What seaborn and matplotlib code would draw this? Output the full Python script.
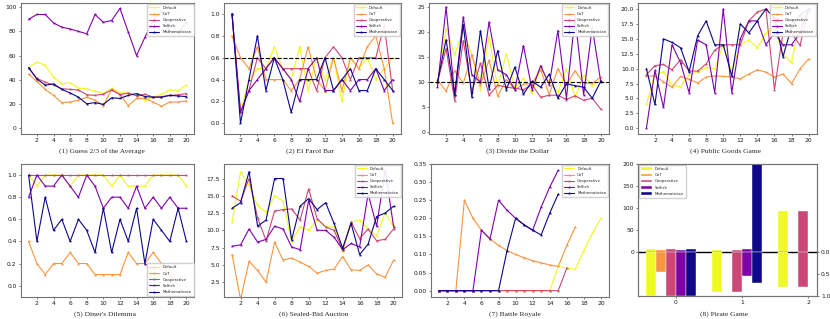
import matplotlib
matplotlib.use("Agg")
import matplotlib.pyplot as plt
import seaborn as sns

rounds = list(range(1, 21))
agents = ["Default", "CoT", "Cooperative", "Selfish", "Mathematician"]

# (1) Guess 2/3 of the Average
guess = {
    "Default": [50, 54.5, 52, 42, 36.5, 37.5, 33, 32.5, 30.5, 28.5, 33, 29, 29, 27, 23, 25.5, 28, 31.5, 31, 35.5],
    "CoT": [44.5, 38.5, 32, 27, 21, 21.5, 23, 25.5, 23, 18.5, 32, 28, 18.5, 24.5, 24.5, 21.5, 18, 21.5, 21.5, 22.5],
    "Cooperative": [50, 41, 38, 35.5, 32.5, 32, 31.5, 27.5, 27, 28, 31.5, 27.5, 29, 26.5, 28, 25.5, 26, 27, 27.5, 28.5],
    "Selfish": [90, 94, 94, 87, 83.5, 82, 80, 78, 94, 87.5, 89, 99, 79.5, 60, 75, 89, 97, 80, 79, 88],
    "Mathematician": [50, 40.5, 35.5, 36.5, 32, 29, 25.5, 20, 21, 19.5, 25, 24.5, 27, 28.5, 26, 25.5, 25.5, 27, 26.5, 26],
}

# (2) El Farol Bar
farol = {
    "Default": [1.0, 0.1, 0.4, 0.5, 0.5, 0.7, 0.5, 0.4, 0.7, 0.3, 0.6, 0.4, 0.6, 0.2, 0.6, 0.5, 0.6, 0.4, 0.5, 0.6],
    "CoT": [0.8, 0.6, 0.5, 0.7, 0.4, 0.4, 0.4, 0.3, 0.4, 0.7, 0.4, 0.3, 0.6, 0.3, 0.6, 0.5, 0.7, 0.8, 0.5, 0.0],
    "Cooperative": [1.0, 0.1, 0.3, 0.6, 0.5, 0.6, 0.5, 0.5, 0.5, 0.5, 0.3, 0.6, 0.7, 0.6, 0.4, 0.6, 0.6, 0.6, 0.9, 0.3],
    "Selfish": [1.0, 0.1, 0.3, 0.4, 0.5, 0.6, 0.5, 0.4, 0.2, 0.5, 0.6, 0.3, 0.3, 0.4, 0.3, 0.4, 0.4, 0.5, 0.3, 0.4],
    "Mathematician": [1.0, 0.0, 0.4, 0.8, 0.3, 0.6, 0.4, 0.1, 0.4, 0.4, 0.4, 0.6, 0.3, 0.4, 0.5, 0.3, 0.3, 0.5, 0.4, 0.3],
}

# (3) Divide the Dollar
dollar = {
    "Default": [10, 20.7, 15.5, 20.3, 15.5, 8.5, 19, 9, 15.7, 8.8, 10.8, 7.8, 12.7, 10, 8, 12.6, 7, 11.4, 9.3, 10.5],
    "CoT": [10.5, 8.2, 12.3, 9.8, 15.5, 9.5, 14.4, 7.2, 10.5, 8.5, 9.6, 9.8, 12.5, 7.5, 12.7, 9.5, 12.3, 9.8, 9.8, 11],
    "Cooperative": [10, 16.7, 6.3, 18.3, 8, 13.8, 7.4, 9.4, 9, 8.8, 8.5, 9.5, 7, 7.4, 7.4, 6.5, 7.3, 6.4, 6.8, 4.6],
    "Selfish": [9, 25, 7.5, 23, 11.5, 10, 22, 12.5, 11.5, 8.5, 17.3, 8.5, 13.3, 9.5, 20.3, 6.8, 23, 7.5, 21, 10],
    "Mathematician": [10, 18.5, 7.5, 21.5, 7, 20.3, 8.7, 16.3, 8.5, 13, 7.6, 10.2, 9, 11.6, 6.8, 9.7, 9.3, 9, 6.8, 10.2],
}

# (4) Public Goods Game
goods = {
    "Default": [4, 9, 9.5, 7.2, 7, 9, 9.5, 10.2, 10, 14, 9.5, 14, 14.8, 13.5, 16, 17, 12.5, 11, 18, 19.5],
    "CoT": [8.7, 8.8, 7.8, 6.9, 8.7, 8.2, 7.6, 8.6, 8.8, 8.7, 8.6, 8.3, 9.1, 9.8, 9.4, 8.6, 9.1, 7.5, 10, 11.6],
    "Cooperative": [9, 10.5, 10.7, 9.8, 11.5, 9.6, 9.6, 10.8, 13.1, 14, 14, 14, 18, 19.5, 20, 6.5, 16, 16, 13.9, 20],
    "Selfish": [0, 9.7, 3.5, 14, 11, 6, 14.8, 14, 6, 20, 6, 15, 18, 18, 14, 16, 14, 14, 16, 20],
    "Mathematician": [10, 4, 15, 14.4, 13.5, 9.5, 15.5, 18, 14, 14, 8.8, 17.5, 16, 18, 20, 18.5, 12, 17, 19, 20],
}

# (5) Diner's Dilemma
diner = {
    "Default": [1, .9, 1, 1, 1, .9, 1, 1, 1, 1, .9, 1, .9, .9, .9, 1, 1, 1, 1, .9],
    "CoT": [.4, .2, .1, .2, .2, .3, .2, .2, .1, .1, .1, .1, .3, .2, .2, .3, .2, .1, 0, 0],
    "Cooperative": [1] * 20,
    "Selfish": [.8, 1, .9, .9, 1, .9, .8, 1, .9, .7, .8, .8, .7, .9, .7, .8, .7, .8, .7, .7],
    "Mathematician": [1, .4, .8, .5, .6, .4, .6, .5, .3, .7, .3, .6, .4, .7, .2, .6, .5, .4, .7, .4],
}

# (6) Sealed-Bid Auction
auction = {
    "Default": [11.2, 18.5, 16.5, 13.6, 12.6, 15, 14.2, 8.3, 10.5, 10, 11.5, 10.5, 10.5, 6.8, 11.2, 11.5, 10.2, 9.2, 12.5, 10.6],
    "CoT": [6.5, 0.0, 5.5, 4.2, 2.5, 8.3, 5.7, 6, 5.4, 4.8, 3.8, 4.2, 4.4, 6.2, 4.3, 4.2, 5, 3.7, 3.2, 5.7],
    "Cooperative": [15, 14.2, 17.5, 11.8, 8.5, 12.8, 13, 13.1, 11.5, 16, 11.7, 10.5, 10, 7.2, 11.2, 8.8, 10.2, 8.5, 8.7, 10.2],
    "Selfish": [7.7, 7.9, 10.2, 8.3, 8.7, 10.6, 10.2, 7.6, 7.2, 14.3, 10, 10, 9, 7.2, 8.1, 7.6, 15.3, 10.6, 18.7, 10.5],
    "Mathematician": [13.2, 14, 18.5, 10.6, 11.5, 17.5, 17.5, 8.6, 13.5, 14.6, 13, 14, 11, 7.4, 11, 6.5, 8, 12, 12.5, 13.5],
}

# (7) Battle Royale (series stop when the agent is out)
royale = {
    "Default": [0] * 14 + [0.067, 0.0625, 0.059, 0.111, 0.158, 0.2],
    "CoT": [0, 0, 0, 0.25, 0.2, 0.167, 0.143, 0.125, 0.111, 0.1, 0.091, 0.083, 0.077, 0.071, 0.067, 0.125, 0.176],
    "Cooperative": [0] * 15 + [0.0625],
    "Selfish": [0] * 5 + [0.167, 0.143, 0.25, 0.222, 0.2, 0.182, 0.167, 0.231, 0.286, 0.333],
    "Mathematician": [0] * 8 + [0.111, 0.2, 0.182, 0.167, 0.154, 0.214, 0.267],
}

# (8) Pirate Game: gold (left axis, up) and rate (right axis, down)
pirate_x = [0, 1, 2]
pirate_gold = {
    "Default": [7, 5, 93],
    "CoT": [4, 0, 0],
    "Cooperative": [7, 5, 93],
    "Selfish": [5, 7, 0],
    "Mathematician": [7, 200, 0],
}
pirate_rate = {
    "Default": [1.0, 0.9, 0.8],
    "CoT": [0.45, 0, 0],
    "Cooperative": [1.0, 0.9, 0.8],
    "Selfish": [1.0, 0.54, 0],
    "Mathematician": [1.0, 0.71, 0],
}

cmap = plt.get_cmap("plasma")
palette = [cmap(v) for v in [1.0, 0.75, 0.5, 0.25, 0.0]]

sns.set_style("ticks")
plt.rcParams["font.family"] = ["DejaVu Sans"]

W, H = 830, 319
fig = plt.figure(figsize=(W / 100, H / 100), dpi=100)


def add_ax(l, t, r, b):
    return fig.add_axes([l / W, 1 - b / H, (r - l) / W, (b - t) / H])


def style_ax(ax):
    for s in ax.spines.values():
        s.set_color("0.45")
        s.set_linewidth(0.8)
    ax.tick_params(labelsize=4.3, length=1.5, width=0.4, pad=1.5, colors="0.1")


def title_below(ax, text, xc, yc):
    fig.text(xc / W, 1 - yc / H, text, ha="center", va="center",
             family="Liberation Serif", fontsize=5.4)


def legend(ax, loc):
    ax.legend(loc=loc, fontsize=2.8, handlelength=2.6, borderpad=0.5,
              labelspacing=0.55, borderaxespad=0.2, frameon=True,
              fancybox=True, framealpha=0.9, edgecolor="0.8")


def draw_lines(ax, series):
    for name, color in zip(agents, palette):
        vals = series[name]
        sns.lineplot(x=rounds[:len(vals)], y=vals, ax=ax, color=color, label=name,
                     marker="*", markersize=2.5, markeredgewidth=0, linewidth=0.8)
    ax.set_xticks(range(2, 21, 2))
    style_ax(ax)


boxes = [
    (20.7, 3, 194.3, 134), (224, 3, 400.7, 134.3), (429.3, 3, 609, 134.3), (638.3, 3, 816.7, 134.3),
    (20.7, 164, 194.3, 296.7), (224, 164, 401.7, 296.7), (430.7, 164, 609, 296.7), (638.3, 164, 816.7, 296),
]
titles = [
    ("(1) Guess 2/3 of the Average", 102, 151), ("(2) El Farol Bar", 309.8, 151),
    ("(3) Divide the Dollar", 517.7, 151), ("(4) Public Goods Game", 725.3, 151),
    ("(5) Diner's Dilemma", 105.3, 314.3), ("(6) Sealed-Bid Auction", 313.7, 314.3),
    ("(7) Battle Royale", 514.5, 314.3), ("(8) Pirate Game", 724.3, 314.3),
]
axes = [add_ax(*b) for b in boxes]

ax = axes[0]
draw_lines(ax, guess)
ax.set_ylim(-5, 103.5)
ax.set_yticks(range(0, 101, 20))
legend(ax, "upper right")

ax = axes[1]
draw_lines(ax, farol)
ax.axhline(0.6, color="k", ls="--", lw=0.8)
ax.set_ylim(-0.1, 1.1)
ax.set_yticks([0, 0.2, 0.4, 0.6, 0.8, 1.0])
ax.set_yticklabels(["0.0", "0.2", "0.4", "0.6", "0.8", "1.0"])
legend(ax, "upper right")

ax = axes[2]
draw_lines(ax, dollar)
ax.axhline(10, color="k", ls="--", lw=0.8)
ax.set_ylim(-0.4, 25.8)
ax.set_yticks(range(0, 26, 5))
legend(ax, "upper right")

ax = axes[3]
draw_lines(ax, goods)
ax.set_ylim(-1, 21)
ax.set_yticks([0, 2.5, 5, 7.5, 10, 12.5, 15, 17.5, 20])
ax.set_yticklabels(["0.0", "2.5", "5.0", "7.5", "10.0", "12.5", "15.0", "17.5", "20.0"])
legend(ax, "upper right")

ax = axes[4]
draw_lines(ax, diner)
ax.set_ylim(-0.1, 1.1)
ax.set_yticks([0, 0.2, 0.4, 0.6, 0.8, 1.0])
ax.set_yticklabels(["0.0", "0.2", "0.4", "0.6", "0.8", "1.0"])
legend(ax, "lower right")

ax = axes[5]
draw_lines(ax, auction)
ax.set_ylim(0.4, 19.6)
ax.set_yticks([2.5, 5, 7.5, 10, 12.5, 15, 17.5])
ax.set_yticklabels(["2.5", "5.0", "7.5", "10.0", "12.5", "15.0", "17.5"])
legend(ax, "upper right")

ax = axes[6]
draw_lines(ax, royale)
ax.set_yticks([0, 0.05, 0.1, 0.15, 0.2, 0.25, 0.3, 0.35])
ax.set_yticklabels(["0.00", "0.05", "0.10", "0.15", "0.20", "0.25", "0.30", "0.35"])
legend(ax, "upper right")

# Pirate game: bars up on the left axis, bars down on an inverted right axis
ax = axes[7]
ax2 = ax.twinx()
width = 0.15
for i, (name, color) in enumerate(zip(agents, palette)):
    xs = [x + (i - 2.5) * width for x in pirate_x]
    gold = pirate_gold[name]
    rate = pirate_rate[name]
    keep = [k for k in range(3) if gold[k] > 0 or rate[k] > 0]
    ax.bar([xs[k] for k in keep], [gold[k] for k in keep], width=width, color=color,
           label=name, edgecolor="white", linewidth=0.3)
    ax2.bar([xs[k] for k in keep], [rate[k] for k in keep], width=width, color=color,
            edgecolor="white", linewidth=0.3)
ax.axhline(0, color="k", lw=1.0, zorder=5)
ax.set_ylim(-100, 200)
ax.set_yticks([0, 50, 100, 150, 200])
ax.set_xlim(-0.57, 2.13)
ax.set_xticks(pirate_x)
ax2.set_ylim(1.0, -2.0)
ax2.set_yticks([0, 0.5, 1.0])
ax2.set_yticklabels(["0.0", "0.5", "1.0"])
style_ax(ax)
style_ax(ax2)
ax.legend(loc="upper left", fontsize=2.8, handlelength=2.6, borderpad=0.5,
          labelspacing=0.55, borderaxespad=0.3, frameon=True, framealpha=0.9,
          edgecolor="0.8")

for ax, (text, xc, yc) in zip(axes, titles):
    title_below(ax, text, xc, yc)

fig.savefig("out.png", dpi=100)
